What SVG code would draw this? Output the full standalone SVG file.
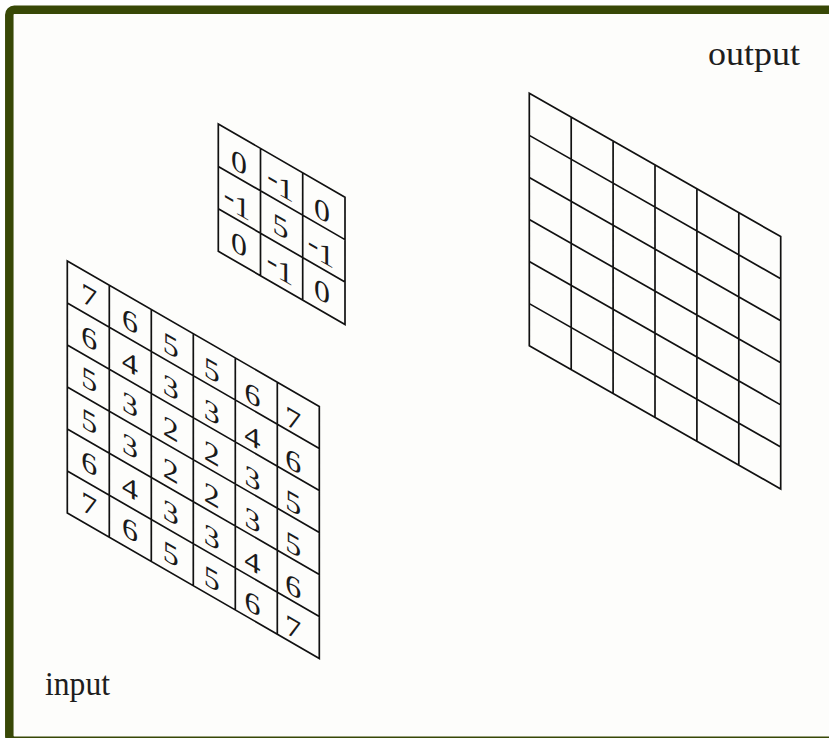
<svg xmlns="http://www.w3.org/2000/svg" width="829" height="738" viewBox="0 0 829 738">
<style>
.grid{fill:none;stroke:#111111;stroke-width:1.7;vector-effect:non-scaling-stroke}
.d{font-family:"Liberation Serif","Times New Roman",serif;font-size:29px;fill:#1a1a1a;text-anchor:middle}
.lbl{font-family:"Liberation Serif","Times New Roman",serif;font-size:34px;fill:#1e1e1e}
</style>
<rect x="0" y="0" width="829" height="738" fill="#ffffff"/>
<g id="frame">
<rect x="9.3" y="9.8" width="900" height="731" rx="5" fill="#fdfdfb" stroke="#384806" stroke-width="8.5"/>
</g>
<g id="kernel">
<path class="grid" transform="matrix(1,0.578,0,1,218.3,124)" d="M0,0H126.7V127.3H0Z M42.2,0V127.3 M84.4,0V127.3 M0,42.4H126.7 M0,84.8H126.7"/>
<g class="d">
<text transform="translate(239,172) skewY(30) scale(1.1,1)">0</text>
<text transform="translate(280.5,195.5) skewY(30) scale(1.1,1)"><tspan dy="-4">-</tspan><tspan dy="4">1</tspan></text>
<text transform="translate(322,220) skewY(30) scale(1.1,1)">0</text>
<text transform="translate(237,214) skewY(30) scale(1.1,1)"><tspan dy="-4">-</tspan><tspan dy="4">1</tspan></text>
<text transform="translate(280.5,236) skewY(30) scale(1.1,1)">5</text>
<text transform="translate(321,261.5) skewY(30) scale(1.1,1)"><tspan dy="-4">-</tspan><tspan dy="4">1</tspan></text>
<text transform="translate(239,254) skewY(30) scale(1.1,1)">0</text>
<text transform="translate(280,279) skewY(30) scale(1.1,1)"><tspan dy="-4">-</tspan><tspan dy="4">1</tspan></text>
<text transform="translate(322,301) skewY(30) scale(1.1,1)">0</text>
</g>
</g>
<g id="input">
<path class="grid" transform="matrix(1,0.577,0,1,67.3,261)" d="M0,0H252V252H0Z M42,0V252 M84,0V252 M126,0V252 M168,0V252 M210,0V252 M0,42H252 M0,84H252 M0,126H252 M0,168H252 M0,210H252"/>
<g class="d">
<text transform="translate(89.2,306) skewY(30) scale(1.1,1)">7</text>
<text transform="translate(130,330.6) skewY(30) scale(1.1,1)">6</text>
<text transform="translate(170.8,355.2) skewY(30) scale(1.1,1)">5</text>
<text transform="translate(211.6,379.8) skewY(30) scale(1.1,1)">5</text>
<text transform="translate(252.4,404.4) skewY(30) scale(1.1,1)">6</text>
<text transform="translate(293.2,429) skewY(30) scale(1.1,1)">7</text>

<text transform="translate(89.2,347.7) skewY(30) scale(1.1,1)">6</text>
<text transform="translate(130,372.3) skewY(30) scale(1.1,1)">4</text>
<text transform="translate(170.8,396.9) skewY(30) scale(1.1,1)">3</text>
<text transform="translate(211.6,421.5) skewY(30) scale(1.1,1)">3</text>
<text transform="translate(252.4,446.1) skewY(30) scale(1.1,1)">4</text>
<text transform="translate(293.2,470.7) skewY(30) scale(1.1,1)">6</text>

<text transform="translate(89.2,389.4) skewY(30) scale(1.1,1)">5</text>
<text transform="translate(130,414) skewY(30) scale(1.1,1)">3</text>
<text transform="translate(170.8,438.6) skewY(30) scale(1.1,1)">2</text>
<text transform="translate(211.6,463.2) skewY(30) scale(1.1,1)">2</text>
<text transform="translate(252.4,487.8) skewY(30) scale(1.1,1)">3</text>
<text transform="translate(293.2,512.4) skewY(30) scale(1.1,1)">5</text>

<text transform="translate(89.2,431.1) skewY(30) scale(1.1,1)">5</text>
<text transform="translate(130,455.7) skewY(30) scale(1.1,1)">3</text>
<text transform="translate(170.8,480.3) skewY(30) scale(1.1,1)">2</text>
<text transform="translate(211.6,504.9) skewY(30) scale(1.1,1)">2</text>
<text transform="translate(252.4,529.5) skewY(30) scale(1.1,1)">3</text>
<text transform="translate(293.2,554.1) skewY(30) scale(1.1,1)">5</text>

<text transform="translate(89.2,472.8) skewY(30) scale(1.1,1)">6</text>
<text transform="translate(130,497.4) skewY(30) scale(1.1,1)">4</text>
<text transform="translate(170.8,522) skewY(30) scale(1.1,1)">3</text>
<text transform="translate(211.6,546.6) skewY(30) scale(1.1,1)">3</text>
<text transform="translate(252.4,571.2) skewY(30) scale(1.1,1)">4</text>
<text transform="translate(293.2,595.8) skewY(30) scale(1.1,1)">6</text>

<text transform="translate(89.2,514.5) skewY(30) scale(1.1,1)">7</text>
<text transform="translate(130,539.1) skewY(30) scale(1.1,1)">6</text>
<text transform="translate(170.8,563.7) skewY(30) scale(1.1,1)">5</text>
<text transform="translate(211.6,588.3) skewY(30) scale(1.1,1)">5</text>
<text transform="translate(252.4,612.9) skewY(30) scale(1.1,1)">6</text>
<text transform="translate(293.2,637.5) skewY(30) scale(1.1,1)">7</text>
</g>
</g>
<g id="output">
<path class="grid" transform="matrix(1,0.570,0,1,529.3,93.3)" d="M0,0H251.4V252.4H0Z M41.9,0V252.4 M83.8,0V252.4 M125.7,0V252.4 M167.6,0V252.4 M209.5,0V252.4 M0,42.07H251.4 M0,84.13H251.4 M0,126.2H251.4 M0,168.27H251.4 M0,210.33H251.4"/>
</g>
<g id="labels">
<text class="lbl" x="708" y="65" textLength="92" lengthAdjust="spacingAndGlyphs">output</text>
<text class="lbl" x="45" y="695" textLength="65" lengthAdjust="spacingAndGlyphs">input</text>
</g>
</svg>
